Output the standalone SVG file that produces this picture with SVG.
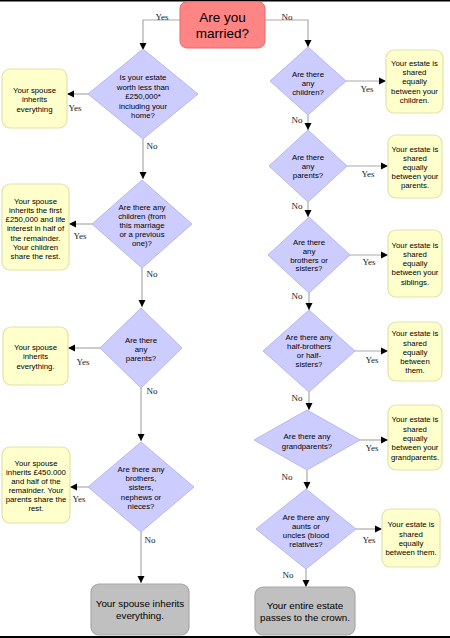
<svg xmlns="http://www.w3.org/2000/svg" width="450" height="638" viewBox="0 0 450 638">
<style>
.dia{fill:#ccccff;stroke:#b8b8ee;stroke-width:1}
.res{fill:#ffffcc;stroke:#e2e2aa;stroke-width:1.2}
.end{fill:#c0c0c0;stroke:#a8a8a8;stroke-width:1.2}
.start{fill:#ff8484;stroke:#e46a6a;stroke-width:1}
.t{font-family:"Liberation Sans",Arial,sans-serif;font-size:7.8px;fill:#000;text-anchor:middle}
.tb{font-family:"Liberation Sans",Arial,sans-serif;font-size:9.8px;fill:#000;text-anchor:middle}
.tt{font-family:"Liberation Sans",Arial,sans-serif;font-size:13.5px;fill:#000;text-anchor:middle}
.lb{font-family:"Liberation Serif","Times New Roman",serif;font-size:9px;fill:#222;text-anchor:middle}
.c{fill:none;stroke:#aaaaaa;stroke-width:1.2;marker-end:url(#ah)}
</style>
<defs>
<marker id="ah" markerUnits="userSpaceOnUse" markerWidth="8" markerHeight="8" refX="7" refY="4" orient="auto">
<path d="M0,0.5 L7,4 L0,7.5 Z" fill="#000"/>
</marker>
</defs>
<rect x="0" y="0" width="450" height="638" fill="#fff"/>
<rect x="0" y="0" width="450" height="1.5" fill="#000"/>
<rect x="0" y="636" width="450" height="2" fill="#000"/>

<g id="connectors">
<path class="c" d="M180,20 H143 V50"/>
<path class="c" d="M265,20 H308 V47"/>
<path class="c" d="M88,94 H67"/>
<path class="c" d="M143,139 V179"/>
<path class="c" d="M92,224 H69"/>
<path class="c" d="M142,268 V307"/>
<path class="c" d="M100,348 H68"/>
<path class="c" d="M141,388 V441"/>
<path class="c" d="M88,487 H70"/>
<path class="c" d="M141,532 V583"/>
<path class="c" d="M346,81 H386"/>
<path class="c" d="M308,115 V130"/>
<path class="c" d="M347,166 H388"/>
<path class="c" d="M308,202 V217"/>
<path class="c" d="M350,255 H388"/>
<path class="c" d="M309,293 V310"/>
<path class="c" d="M355,351 H388"/>
<path class="c" d="M309,392 V410"/>
<path class="c" d="M360,440 H388"/>
<path class="c" d="M307,470 V489"/>
<path class="c" d="M356,529 H382"/>
<path class="c" d="M306,569 V587"/>
<text class="lb" x="162" y="20">Yes</text>
<text class="lb" x="287" y="20">No</text>
<text class="lb" x="75" y="111">Yes</text>
<text class="lb" x="152" y="149">No</text>
<text class="lb" x="80" y="239">Yes</text>
<text class="lb" x="152" y="277">No</text>
<text class="lb" x="83" y="365">Yes</text>
<text class="lb" x="152" y="394">No</text>
<text class="lb" x="79" y="502">Yes</text>
<text class="lb" x="150" y="543">No</text>
<text class="lb" x="367" y="92">Yes</text>
<text class="lb" x="297" y="123">No</text>
<text class="lb" x="368" y="177">Yes</text>
<text class="lb" x="297" y="209">No</text>
<text class="lb" x="369" y="265">Yes</text>
<text class="lb" x="297" y="299">No</text>
<text class="lb" x="372" y="363">Yes</text>
<text class="lb" x="297" y="401">No</text>
<text class="lb" x="372" y="451">Yes</text>
<text class="lb" x="287" y="480">No</text>
<text class="lb" x="369" y="543">Yes</text>
<text class="lb" x="288" y="578">No</text>
</g>

<g id="start">
<rect class="start" x="180" y="1.5" width="85" height="46.5" rx="7"/>
<text class="tt" x="222.5" y="22">Are you</text>
<text class="tt" x="222.5" y="38">married?</text>
</g>

<g id="q-estate">
<polygon class="dia" points="143,49 198,94 143,139 88,94"/>
<text class="t" x="143" y="80">Is your estate</text>
<text class="t" x="143" y="89.5">worth less than</text>
<text class="t" x="143" y="99">£250,000*</text>
<text class="t" x="143" y="108.5">including your</text>
<text class="t" x="143" y="118">home?</text>
</g>
<g id="r-spouse1">
<rect class="res" x="2" y="69" width="65" height="59" rx="8"/>
<text class="t" x="34.5" y="93">Your spouse</text>
<text class="t" x="34.5" y="102">inherits</text>
<text class="t" x="34.5" y="111.5">everything</text>
</g>

<g id="q-children-l">
<polygon class="dia" points="142,180 192,224 142,268 92,224"/>
<text class="t" x="142" y="210">Are there any</text>
<text class="t" x="142" y="219">children (from</text>
<text class="t" x="142" y="228">this marriage</text>
<text class="t" x="142" y="237">or a previous</text>
<text class="t" x="142" y="246">one)?</text>
</g>
<g id="r-spouse2">
<rect class="res" x="2" y="184" width="67" height="86" rx="8"/>
<text class="t" x="35.5" y="204">Your spouse</text>
<text class="t" x="35.5" y="213">inherits the first</text>
<text class="t" x="35.5" y="222">£250,000 and life</text>
<text class="t" x="35.5" y="231">interest in half of</text>
<text class="t" x="35.5" y="241">the remainder.</text>
<text class="t" x="35.5" y="250">Your children</text>
<text class="t" x="35.5" y="259">share the rest.</text>
</g>

<g id="q-parents-l">
<polygon class="dia" points="141,308 182,348 141,388 100,348"/>
<text class="t" x="141" y="343">Are there</text>
<text class="t" x="141" y="352">any</text>
<text class="t" x="141" y="361">parents?</text>
</g>
<g id="r-spouse3">
<rect class="res" x="3" y="327" width="65" height="58" rx="8"/>
<text class="t" x="35.5" y="350">Your spouse</text>
<text class="t" x="35.5" y="359">inherits</text>
<text class="t" x="35.5" y="369">everything.</text>
</g>

<g id="q-siblings-l">
<polygon class="dia" points="141,442 194,487 141,532 88,487"/>
<text class="t" x="141" y="472">Are there any</text>
<text class="t" x="141" y="481">brothers,</text>
<text class="t" x="141" y="490">sisters,</text>
<text class="t" x="141" y="500">nephews or</text>
<text class="t" x="141" y="509">nieces?</text>
</g>
<g id="r-spouse4">
<rect class="res" x="2" y="447" width="68" height="76" rx="8"/>
<text class="t" x="36" y="466">Your spouse</text>
<text class="t" x="36" y="475">inherits £450.000</text>
<text class="t" x="36" y="484">and half of the</text>
<text class="t" x="36" y="493">remainder. Your</text>
<text class="t" x="36" y="502">parents share the</text>
<text class="t" x="36" y="511">rest.</text>
</g>
<g id="end-spouse">
<rect class="end" x="91" y="584" width="98" height="51" rx="8"/>
<text class="tb" x="140" y="607">Your spouse inherits</text>
<text class="tb" x="140" y="619">everything.</text>
</g>

<g id="q-children-r">
<polygon class="dia" points="308,47 346,81 308,115 270,81"/>
<text class="t" x="308" y="77">Are there</text>
<text class="t" x="308" y="86">any</text>
<text class="t" x="308" y="95">children?</text>
</g>
<g id="r-children">
<rect class="res" x="386" y="50" width="57" height="63" rx="8"/>
<text class="t" x="414.5" y="66">Your estate is</text>
<text class="t" x="414.5" y="75">shared</text>
<text class="t" x="414.5" y="84">equally</text>
<text class="t" x="414.5" y="94">between your</text>
<text class="t" x="414.5" y="103">children.</text>
</g>

<g id="q-parents-r">
<polygon class="dia" points="308,130 347,166 308,202 269,166"/>
<text class="t" x="308" y="160">Are there</text>
<text class="t" x="308" y="169">any</text>
<text class="t" x="308" y="178">parents?</text>
</g>
<g id="r-parents">
<rect class="res" x="388" y="135" width="54" height="63" rx="8"/>
<text class="t" x="415" y="152">Your estate is</text>
<text class="t" x="415" y="161">shared</text>
<text class="t" x="415" y="170">equally</text>
<text class="t" x="415" y="179">between your</text>
<text class="t" x="415" y="188">parents.</text>
</g>

<g id="q-siblings-r">
<polygon class="dia" points="309,217 350,255 309,293 268,255"/>
<text class="t" x="309" y="245">Are there</text>
<text class="t" x="309" y="254">any</text>
<text class="t" x="309" y="263">brothers or</text>
<text class="t" x="309" y="271">sisters?</text>
</g>
<g id="r-siblings">
<rect class="res" x="388" y="230" width="54" height="67" rx="8"/>
<text class="t" x="415" y="248">Your estate is</text>
<text class="t" x="415" y="257">shared</text>
<text class="t" x="415" y="266">equally</text>
<text class="t" x="415" y="275">between your</text>
<text class="t" x="415" y="285">siblings.</text>
</g>

<g id="q-half">
<polygon class="dia" points="309,310 355,351 309,392 263,351"/>
<text class="t" x="309" y="340">Are there any</text>
<text class="t" x="309" y="349">half-brothers</text>
<text class="t" x="309" y="358">or half-</text>
<text class="t" x="309" y="367">sisters?</text>
</g>
<g id="r-half">
<rect class="res" x="388" y="322" width="54" height="59" rx="8"/>
<text class="t" x="415" y="336">Your estate is</text>
<text class="t" x="415" y="346">shared</text>
<text class="t" x="415" y="355">equally</text>
<text class="t" x="415" y="364">between</text>
<text class="t" x="415" y="373">them.</text>
</g>

<g id="q-grand">
<polygon class="dia" points="307,410 360,440 307,470 254,440"/>
<text class="t" x="307" y="439">Are there any</text>
<text class="t" x="307" y="449">grandparents?</text>
</g>
<g id="r-grand">
<rect class="res" x="388" y="405" width="54" height="65" rx="8"/>
<text class="t" x="415" y="422">Your estate is</text>
<text class="t" x="415" y="432">shared</text>
<text class="t" x="415" y="441">equally</text>
<text class="t" x="415" y="450">between your</text>
<text class="t" x="415" y="460">grandparents.</text>
</g>

<g id="q-aunts">
<polygon class="dia" points="306,489 356,529 306,569 256,529"/>
<text class="t" x="306" y="520">Are there any</text>
<text class="t" x="306" y="529">aunts or</text>
<text class="t" x="306" y="538">uncles (blood</text>
<text class="t" x="306" y="547">relatives?</text>
</g>
<g id="r-aunts">
<rect class="res" x="382" y="509" width="58" height="58" rx="8"/>
<text class="t" x="411" y="527">Your estate is</text>
<text class="t" x="411" y="537">shared</text>
<text class="t" x="411" y="546">equally</text>
<text class="t" x="411" y="555">between them.</text>
</g>
<g id="end-crown">
<rect class="end" x="255" y="587" width="100" height="48" rx="8"/>
<text class="tb" x="305" y="609">Your entire estate</text>
<text class="tb" x="305" y="621">passes to the crown.</text>
</g>
</svg>
